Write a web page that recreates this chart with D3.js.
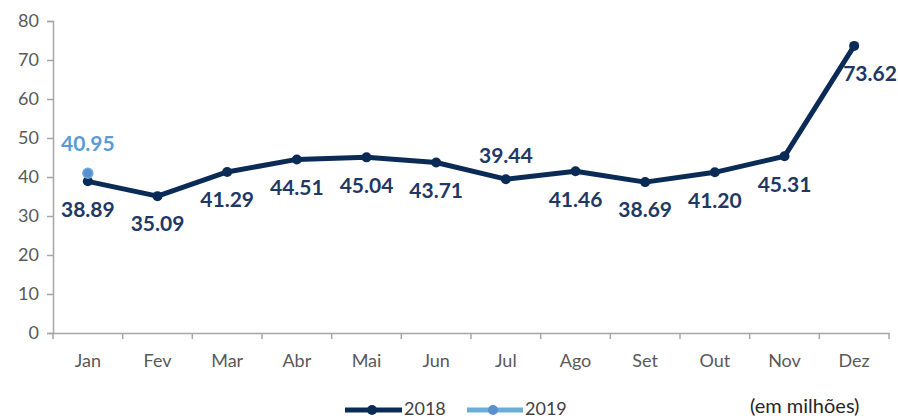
<!DOCTYPE html>
<html><head><meta charset="utf-8">
<script src="https://cdn.jsdelivr.net/npm/d3@7"></script>
<style>body{margin:0;background:#fff}svg{display:block}text{font-family:Lato,"Open Sans",sans-serif}</style>
</head><body><svg id="c" width="898" height="420"></svg>
<script>
const months = ["Jan","Fev","Mar","Abr","Mai","Jun","Jul","Ago","Set","Out","Nov","Dez"];
const values2018 = [38.89,35.09,41.29,44.51,45.04,43.71,39.44,41.46,38.69,41.20,45.31,73.62];
const values2019 = [40.95];
const labelPos2018 = ["below","below","below","below","below","below","above","below","below","below","below","right"];
const yTicks = [0,10,20,30,40,50,60,70,80];

const svg = d3.select("#c");
const x = d3.scaleBand().domain(months).range([53, 889]);
const y = d3.scaleLinear().domain([0,80]).range([333, 21]);
const cx = m => x(m) + x.bandwidth()/2;
const dark = "#0b2b57", light = "#6aaed8", labDark = "#1f3864", labLight = "#5b9bd5";
const FF = "Lato, 'Open Sans', sans-serif";

// y axis
const ya = svg.append("g").attr("transform","translate(53,0)")
  .call(d3.axisLeft(y).tickValues(yTicks).tickSize(6).tickPadding(8));
ya.select(".domain").attr("stroke","#a6a6a6").attr("stroke-width",1.5);
ya.selectAll("line").attr("stroke","#a6a6a6").attr("stroke-width",1.5);
ya.selectAll("text").attr("fill","#595959").style("font-size","18px").style("font-family",FF);

// x axis
const xa = svg.append("g").attr("transform","translate(0,333)")
  .call(d3.axisBottom(x).tickSize(0).tickPadding(21));
xa.select(".domain").attr("stroke","#a6a6a6").attr("stroke-width",1.5);
xa.selectAll("text").attr("fill","#595959").style("font-size","18px").style("font-family",FF);
const bounds = months.map(m => x(m)).concat([x.range()[1]]);
svg.append("g").selectAll("line").data(bounds).join("line")
  .attr("x1",d=>d).attr("x2",d=>d).attr("y1",333).attr("y2",339)
  .attr("stroke","#a6a6a6").attr("stroke-width",1.5);

// 2018 line
const line = d3.line().x((d,i)=>cx(months[i])).y(d=>y(d));
svg.append("path").datum(values2018).attr("d",line).attr("fill","none")
  .attr("stroke",dark).attr("stroke-width",5).attr("stroke-linejoin","round");
svg.append("g").selectAll("circle").data(values2018).join("circle")
  .attr("cx",(d,i)=>cx(months[i])).attr("cy",d=>y(d)).attr("r",5).attr("fill",dark);

// 2019
svg.append("g").selectAll("circle").data(values2019).join("circle")
  .attr("cx",(d,i)=>cx(months[i])).attr("cy",d=>y(d)).attr("r",5)
  .attr("fill","#5b8fd0").attr("stroke",light).attr("stroke-width",1.5);

// labels 2018
svg.append("g").selectAll("text").data(values2018).join("text")
  .attr("x",(d,i)=> labelPos2018[i]==="right" ? cx(months[i]) - 11 : cx(months[i]))
  .attr("y",(d,i)=> labelPos2018[i]==="above" ? y(d) - 24 : y(d) + 28)
  .attr("dy","0.35em")
  .attr("text-anchor",(d,i)=> labelPos2018[i]==="right" ? "start" : "middle")
  .attr("fill",labDark).style("font-size","21px").style("font-weight","bold")
  .text(d=>d.toFixed(2));
svg.append("g").selectAll("text").data(values2019).join("text")
  .attr("x",(d,i)=>cx(months[i])).attr("y",d=>y(d)-30).attr("dy","0.35em")
  .attr("text-anchor","middle").attr("fill",labLight)
  .style("font-size","21px").style("font-weight","bold").text(d=>d.toFixed(2));

// legend
const lg = svg.append("g");
lg.append("line").attr("x1",345).attr("x2",402).attr("y1",410).attr("y2",410).attr("stroke",dark).attr("stroke-width",5);
lg.append("circle").attr("cx",372).attr("cy",410).attr("r",5).attr("fill",dark);
lg.append("text").attr("x",404).attr("y",409).attr("dy","0.35em").attr("fill","#404040").style("font-size","18px").text("2018");
lg.append("line").attr("x1",467).attr("x2",523).attr("y1",410).attr("y2",410).attr("stroke",light).attr("stroke-width",5);
lg.append("circle").attr("cx",493).attr("cy",410).attr("r",5).attr("fill","#5b8fd0");
lg.append("text").attr("x",525).attr("y",409).attr("dy","0.35em").attr("fill","#404040").style("font-size","18px").text("2019");
svg.append("text").attr("x",750).attr("y",406).attr("dy","0.35em").attr("fill","#262626").style("font-size","20px").text("(em milhões)");
</script></body></html>
